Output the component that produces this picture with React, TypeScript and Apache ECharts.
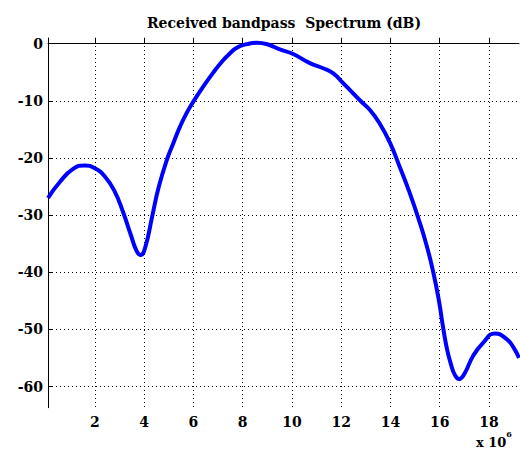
import React, { useEffect, useRef } from "react";
import * as echarts from "echarts";

// Frequency in units of 1e6 Hz
const freqs = [
  0.1, 0.58, 1.12, 1.59, 2.0, 2.4, 2.8, 3.15, 3.45, 3.7, 3.86, 4.05, 4.34, 4.6,
  4.95, 5.18, 5.45, 5.72, 6.02, 6.4, 6.8, 7.15, 7.48, 7.8, 8.2, 8.57, 9.0, 9.51, 10.05,
  10.73, 11.27, 11.68, 12.08, 12.4, 12.76, 13.17, 13.57, 13.98, 14.4, 14.79, 15.13,
  15.47, 15.74, 15.97, 16.14, 16.3, 16.45, 16.62, 16.79, 17.0, 17.36, 17.77, 18.24,
  18.72, 19.0, 19.22,
];
const spectrumDb = [
  -27.0, -24.2, -21.9, -21.3, -21.8, -23.2, -25.8, -29.5, -33.3, -36.3, -37.0, -35.6,
  -30.0, -25.0, -20.0, -17.5, -14.6, -12.2, -10.0, -7.5, -5.1, -3.2, -1.7, -0.6, -0.05, 0.15,
  -0.1, -1.0, -1.8, -3.4, -4.3, -5.2, -6.9, -8.3, -9.9, -11.6, -14.0, -17.3, -21.8,
  -26.2, -30.5, -35.3, -40.0, -45.0, -49.7, -53.5, -56.0, -58.0, -58.7, -57.8, -54.6,
  -52.3, -50.7, -51.7, -53.2, -55.0,
];
const xTicks = [2, 4, 6, 8, 10, 12, 14, 16, 18];
const yTicks = [0, -10, -20, -30, -40, -50, -60];
const titleText = "Received bandpass  Spectrum (dB)";

export default function App() {
  const ref = useRef<HTMLDivElement>(null);
  useEffect(() => {
    if (!ref.current) return;
    const chart = echarts.init(ref.current, null, { renderer: "svg" });
    const font = "'DejaVu Serif', 'Liberation Serif', serif";
    const gridLine = { show: true, lineStyle: { color: "#000", width: 1, type: [1, 3] as any } };
    chart.setOption({
      animation: false,
      backgroundColor: "#fff",
      title: {
        text: titleText,
        left: 279,
        top: 11,
        textAlign: "center",
        textStyle: { fontFamily: font, fontSize: 14, fontWeight: "bold", color: "#000" },
      },
      grid: { left: 48, right: 1, top: 38, bottom: 49.3, containLabel: false },
      xAxis: {
        type: "value",
        min: 0.1,
        max: 19.22,
        axisLine: { show: true, lineStyle: { color: "#000", width: 1 } },
        axisTick: { show: true, inside: true, length: 6, customValues: xTicks, lineStyle: { color: "#000" } },
        axisLabel: {
          customValues: xTicks,
          margin: 7,
          fontFamily: font,
          fontSize: 14,
          fontWeight: "bold",
          color: "#000",
        },
        splitLine: gridLine,
      },
      yAxis: {
        type: "value",
        min: -63.7,
        max: 1,
        axisLine: { show: true, lineStyle: { color: "#000", width: 1 } },
        axisTick: { show: true, inside: true, length: 5, customValues: yTicks, lineStyle: { color: "#000" } },
        axisLabel: {
          customValues: yTicks,
          margin: 5,
          fontFamily: font,
          fontSize: 14,
          fontWeight: "bold",
          color: "#000",
        },
        splitLine: gridLine,
      },
      graphic: [
        {
          type: "text",
          left: 476,
          top: 430,
          style: {
            text: "{b|x 10}{s|6}",
            rich: {
              b: { fontFamily: font, fontSize: 13, fontWeight: "bold", fill: "#000", padding: [6, 0, 0, 0] },
              s: { fontFamily: font, fontSize: 8, fontWeight: "bold", fill: "#000", verticalAlign: "top" },
            },
          },
        },
      ],
      series: [
        {
          type: "line",
          data: freqs.map((f, i) => [f, spectrumDb[i]]),
          smooth: 0.5,
          showSymbol: false,
          symbol: "none",
          clip: true,
          lineStyle: { color: "#0000ff", width: 4 },
        },
      ],
    });
    return () => chart.dispose();
  }, []);
  return (
    <div
      ref={ref}
      style={{ position: "fixed", left: 0, top: 0, width: 520, height: 457, background: "#fff" }}
    />
  );
}
